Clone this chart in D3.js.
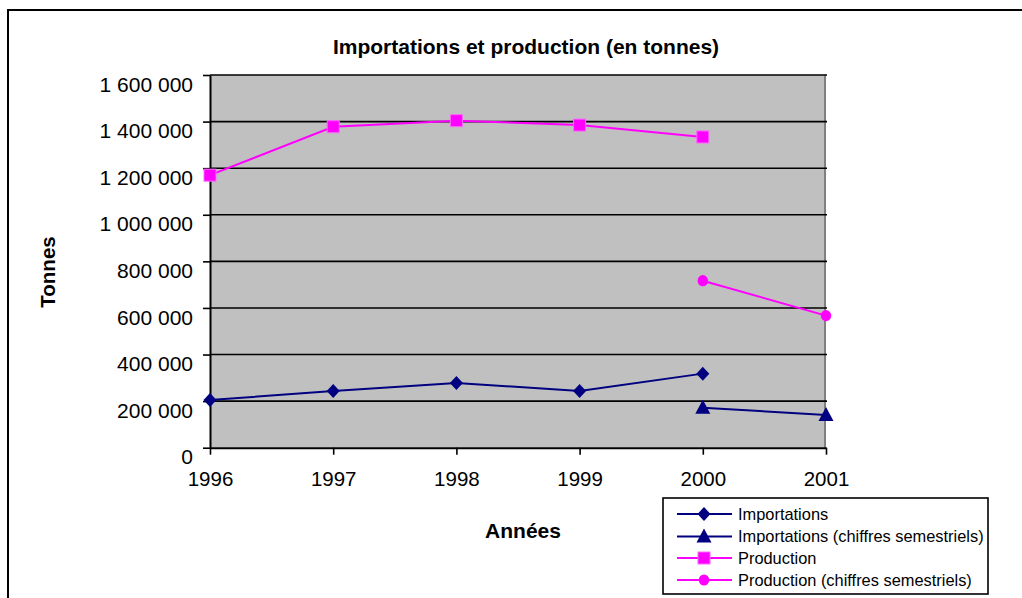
<!DOCTYPE html>
<html>
<head>
<meta charset="utf-8">
<script src="https://cdn.jsdelivr.net/npm/d3@7"></script>
<style>
  html, body { margin: 0; padding: 0; background: #fff; }
  svg { display: block; font-family: "Liberation Sans", Arial, sans-serif; }
</style>
</head>
<body>
<svg id="chart" width="1022" height="598"></svg>
<script>
const years = ["1996", "1997", "1998", "1999", "2000", "2001"];
const importations = [205000, 243000, 278000, 243000, 318000, null];
const importationsSem = [null, null, null, null, 172000, 140000];
const production = [1170000, 1378000, 1404000, 1385000, 1334000, null];
const productionSem = [null, null, null, null, 717000, 567000];
const yTicks = [0, 200000, 400000, 600000, 800000, 1000000, 1200000, 1400000, 1600000];
const seriesNames = ["Importations", "Importations (chiffres semestriels)", "Production", "Production (chiffres semestriels)"];

const NAVY = "#000080", PINK = "#FF00FF";
const series = [
  { name: seriesNames[0], values: importations, color: NAVY, marker: "diamond" },
  { name: seriesNames[1], values: importationsSem, color: NAVY, marker: "triangle" },
  { name: seriesNames[2], values: production, color: PINK, marker: "square" },
  { name: seriesNames[3], values: productionSem, color: PINK, marker: "circle" }
];

const svg = d3.select("#chart");
const pLeft = 210, pRight = 826, pTop = 75, pBottom = 447.7;

const x = d3.scalePoint().domain(years).range([pLeft, pRight]).padding(0);
const y = d3.scaleLinear().domain([0, 1600000]).range([pBottom, pTop]);
const fmt = d3.formatLocale({ decimal: ",", thousands: " ", grouping: [3], currency: ["", ""] }).format(",d");

// outer border
svg.append("rect").attr("x", 8).attr("y", 10).attr("width", 1100).attr("height", 700)
  .attr("fill", "#fff").attr("stroke", "#000").attr("stroke-width", 2);

// title
svg.append("text").attr("x", 526).attr("y", 54).attr("text-anchor", "middle")
  .attr("font-weight", "bold").attr("font-size", 21).text("Importations et production (en tonnes)");

// plot area
svg.append("rect").attr("x", pLeft).attr("y", pTop).attr("width", pRight - pLeft).attr("height", pBottom - pTop)
  .attr("fill", "#C0C0C0");
svg.append("line").attr("x1", pRight - 1).attr("x2", pRight - 1).attr("y1", pTop).attr("y2", pBottom)
  .attr("stroke", "#808080").attr("stroke-width", 2);

// gridlines
svg.append("g").selectAll("line").data(yTicks.filter(d => d > 0)).join("line")
  .attr("x1", pLeft).attr("x2", pRight + 1).attr("y1", d => y(d)).attr("y2", d => y(d))
  .attr("stroke", "#000").attr("stroke-width", 1.6);

// y axis
const yAxis = svg.append("g").attr("transform", `translate(${pLeft},0)`)
  .call(d3.axisLeft(y).tickValues(yTicks).tickFormat(fmt).tickSize(7).tickSizeOuter(0).tickPadding(10));
yAxis.select(".domain").attr("stroke-width", 2);
yAxis.selectAll(".tick line").attr("stroke-width", 1.6);
yAxis.selectAll(".tick text").attr("font-size", 21).attr("fill", "#000")
  .attr("font-family", "'Liberation Sans', Arial, sans-serif").attr("dy", "0.32em").attr("y", 9.5);

// x axis
const xAxis = svg.append("g").attr("transform", `translate(0,${pBottom})`)
  .call(d3.axisBottom(x).tickSize(7).tickSizeOuter(0).tickPadding(17));
xAxis.select(".domain").attr("stroke-width", 2);
xAxis.selectAll(".tick line").attr("stroke-width", 1.6);
xAxis.selectAll(".tick text").attr("font-size", 20.5).attr("fill", "#000")
  .attr("font-family", "'Liberation Sans', Arial, sans-serif");

// axis titles
svg.append("text").attr("x", 523).attr("y", 538).attr("text-anchor", "middle")
  .attr("font-weight", "bold").attr("font-size", 21).text("Années");
svg.append("text").attr("transform", "translate(55,272) rotate(-90)").attr("text-anchor", "middle")
  .attr("font-weight", "bold").attr("font-size", 20.5).text("Tonnes");

// markers
function drawMarker(g, type, color, cx, cy) {
  if (type === "diamond") {
    g.append("path").attr("d", `M${cx},${cy - 7}L${cx + 6.5},${cy}L${cx},${cy + 7}L${cx - 6.5},${cy}Z`).attr("fill", color);
  } else if (type === "triangle") {
    g.append("path").attr("d", `M${cx},${cy - 8}L${cx + 7.5},${cy + 6}L${cx - 7.5},${cy + 6}Z`).attr("fill", color);
  } else if (type === "square") {
    g.append("rect").attr("x", cx - 6).attr("y", cy - 6).attr("width", 12).attr("height", 12)
      .attr("fill", color).attr("stroke", "#FF66FF").attr("stroke-width", 1);
  } else {
    g.append("ellipse").attr("cx", cx).attr("cy", cy).attr("rx", 5.2).attr("ry", 5.6).attr("fill", color);
  }
}

const line = d3.line().defined(d => d.v != null).x(d => x(d.year)).y(d => y(d.v));
series.forEach(s => {
  const pts = years.map((yr, i) => ({ year: yr, v: s.values[i] }));
  svg.append("path").datum(pts).attr("d", line).attr("fill", "none")
    .attr("stroke", s.color).attr("stroke-width", 2);
  const g = svg.append("g");
  pts.filter(p => p.v != null).forEach(p => drawMarker(g, s.marker, s.color, x(p.year), y(p.v)));
});

// legend
const lg = svg.append("g");
lg.append("rect").attr("x", 663).attr("y", 498).attr("width", 325).attr("height", 96)
  .attr("fill", "#fff").attr("stroke", "#000").attr("stroke-width", 1.6);
const rowY = [514, 536.5, 558, 580];
series.forEach((s, i) => {
  const yy = rowY[i];
  lg.append("line").attr("x1", 677).attr("x2", 732).attr("y1", yy).attr("y2", yy)
    .attr("stroke", s.color).attr("stroke-width", 2);
  drawMarker(lg, s.marker, s.color, 704, yy);
  lg.append("text").attr("x", 738).attr("y", yy + 5.5).attr("font-size", 16.4).attr("fill", "#000")
    .text(s.name);
});
</script>
</body>
</html>
